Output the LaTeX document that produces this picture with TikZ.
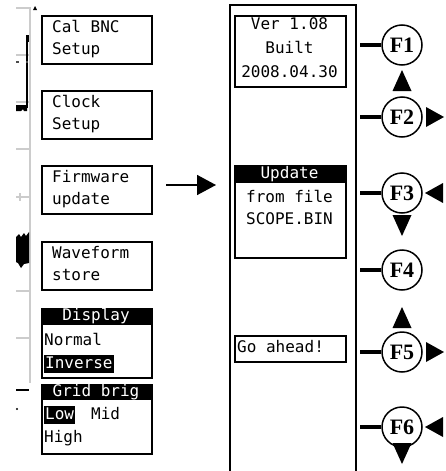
\documentclass[tikz,border=0pt]{standalone}
\usepackage{fontspec}
\usetikzlibrary{arrows.meta}
\newfontfamily\lcdfont{DejaVu Sans Mono}
\newfontfamily\keyfont{Liberation Serif}
\begin{document}
\begin{tikzpicture}[x=1pt,y=-1pt,
  menubox/.style={draw, line width=1.6pt},
  lcd/.style={font=\lcdfont\fontsize{16}{22}\selectfont, inner sep=0pt, text height=11.5pt, text depth=3pt},
  hdr/.style={lcd, text=white},
  hilite/.style={lcd, fill=black, text=white, inner xsep=1pt, inner ysep=2pt},
  fkey/.style={circle, draw, line width=1.5pt, minimum size=40pt, inner sep=0pt,
               font=\keyfont\bfseries\fontsize{22}{22}\selectfont},
  keyline/.style={line width=4pt},
  grid/.style={draw=black!20, line width=2pt},
  tri/.style={fill=black}
]
\useasboundingbox (0,0) rectangle (445,471);

% ---- scope trace strip at the far left ----
\draw[grid] (16,8) -- (29.5,8) -- (29.5,383);
\foreach \yy in {55,102,149,197,244,291,338}
  \draw[grid] (16,\yy) -- (29.5,\yy);
\draw[draw=black!20, line width=1.2pt] (20,193) -- (20,201);
\fill (33,10) -- (35,6) -- (37,10) -- cycle;
\draw[line width=1.6pt] (27,37) -- (27,108);
\fill (25.5,35) rectangle (29,42);
\fill (16,105) -- (27,105) -- (27,111) -- (24,111) -- (23,109) -- (21,111) -- (16,111) -- cycle;
\fill[black!70] (16,61) rectangle (19,63);
\fill[black!70] (26,61) rectangle (28,63);
\fill (16,237) -- (19,234) -- (21,237) -- (24,233) -- (26,236) -- (29,232)
      -- (29,263) -- (24,264) -- (21,268) -- (18,263) -- (16,262) -- cycle;
\draw[line width=1.6pt] (16,390) -- (29,390);
\fill (17,409) circle (1.2);

% ---- left-hand menu boxes ----
\node[menubox, minimum width=110pt, minimum height=48pt, anchor=north west] (calbnc) at (41,15) {};
\node[lcd, anchor=west] (calbncA) at (52,28) {Cal BNC};
\node[lcd, anchor=west] (calbncB) at (52,50) {Setup};

\node[menubox, minimum width=110pt, minimum height=48pt, anchor=north west] (clock) at (41,90) {};
\node[lcd, anchor=west] (clockA) at (52,103) {Clock};
\node[lcd, anchor=west] (clockB) at (52,125) {Setup};

\node[menubox, minimum width=110pt, minimum height=48pt, anchor=north west] (fw) at (41,165) {};
\node[lcd, anchor=west] (fwA) at (52,178) {Firmware};
\node[lcd, anchor=west] (fwB) at (52,200) {update};

\node[menubox, minimum width=110pt, minimum height=48pt, anchor=north west] (wave) at (41,241) {};
\node[lcd, anchor=west] (waveA) at (52,254) {Waveform};
\node[lcd, anchor=west] (waveB) at (52,276) {store};

% Display menu
\fill (41,308) rectangle (151,325);
\node[menubox, minimum width=110pt, minimum height=69pt, anchor=north west] (disp) at (41,308) {};
\node[hdr] (dispH) at (96,316.5) {Display};
\node[lcd, anchor=west] (dispA) at (44,341) {Normal};
\node[hilite, anchor=west] (dispB) at (44,364) {Inverse};

% Grid brightness menu
\fill (41,384) rectangle (151,400);
\node[menubox, minimum width=110pt, minimum height=69pt, anchor=north west] (gridm) at (41,384) {};
\node[hdr] (gridH) at (96,392) {Grid brig};
\node[hilite, anchor=west] (gridA) at (44,415) {Low};
\node[lcd, anchor=west] (gridB) at (91,415) {Mid};
\node[lcd, anchor=west] (gridC) at (44,438) {High};

% ---- firmware update screen ----
\coordinate (screenTL) at (230,5);
\coordinate (screenTR) at (356,5);
\draw[line width=1.6pt] (230,475) -- (screenTL) -- (screenTR) -- (356,475);

\node[menubox, minimum width=111pt, minimum height=71pt, anchor=north west] (ver) at (234,15) {};
\node[lcd] (verA) at (289.5,25) {Ver 1.08};
\node[lcd] (verB) at (289.5,49) {Built};
\node[lcd] (verC) at (289.5,73) {2008.04.30};

\fill (234,165) rectangle (345,183);
\node[menubox, minimum width=111pt, minimum height=92pt, anchor=north west] (upd) at (234,165) {};
\node[hdr] (updH) at (289.5,174) {Update};
\node[lcd] (updA) at (289.5,198) {from file};
\node[lcd] (updB) at (289.5,220) {SCOPE.BIN};

\node[menubox, minimum width=111pt, minimum height=26pt, anchor=north west] (go) at (234,335) {};
\node[lcd, anchor=west] (goA) at (237,348) {Go ahead!};

% arrow from the menu entry to the screen
\coordinate (arrS) at (166,185);
\coordinate (arrE) at (216,185);
\draw[line width=1.6pt, -{Triangle[length=19pt,width=20pt]}] (arrS) -- (arrE);

% ---- function keys ----
\node[fkey] (F1) at (402,45) {F1};
\node[fkey] (F2) at (402,117) {F2};
\node[fkey] (F3) at (402,193) {F3};
\node[fkey] (F4) at (402,270) {F4};
\node[fkey] (F5) at (402,352) {F5};
\node[fkey] (F6) at (402,427) {F6};
\foreach \k in {F1,F2,F3,F4,F5,F6}
  \draw[keyline] (360,0 |- \k) -- (\k.west);

% direction marks next to the keys
\fill[tri] (402,70) -- (411.5,91) -- (392.5,91) -- cycle;
\fill[tri] (444,117) -- (426,107) -- (426,127) -- cycle;
\fill[tri] (425,193) -- (443,183) -- (443,203) -- cycle;
\fill[tri] (402,236) -- (411.5,215) -- (392.5,215) -- cycle;
\fill[tri] (402,307) -- (411.5,328) -- (392.5,328) -- cycle;
\fill[tri] (444,352) -- (426,342) -- (426,362) -- cycle;
\fill[tri] (425,427) -- (443,417) -- (443,437) -- cycle;
\fill[tri] (402,464) -- (411.5,443) -- (392.5,443) -- cycle;
\end{tikzpicture}
\end{document}
